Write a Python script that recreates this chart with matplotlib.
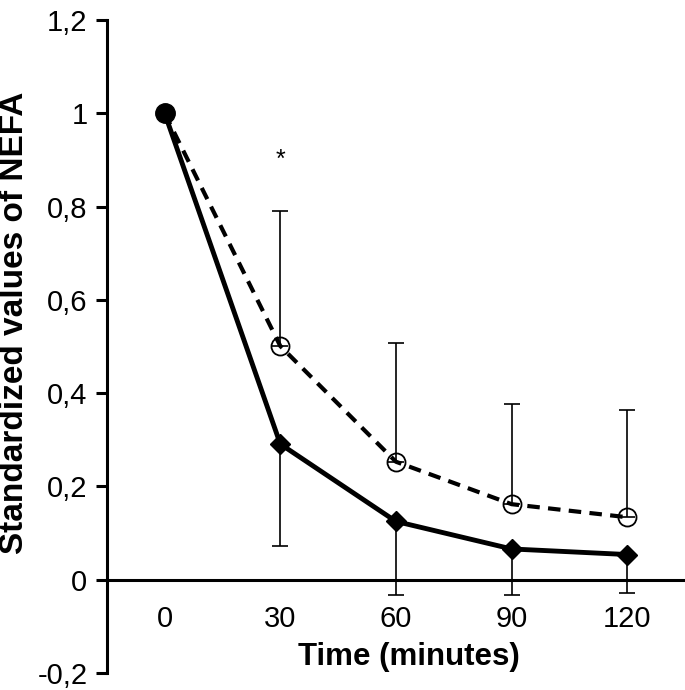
import matplotlib
matplotlib.use("Agg")
import matplotlib.pyplot as plt

plt.rcParams["font.family"] = ["Liberation Sans", "DejaVu Sans"]

# data
times = ["0", "30", "60", "90", "120"]
solid_vals = [1.0, 0.291, 0.125, 0.066, 0.054]
solid_err_low = [0.0, 0.218, 0.157, 0.098, 0.083]
dashed_vals = [1.0, 0.501, 0.253, 0.162, 0.134]
dashed_err_up = [0.0, 0.290, 0.255, 0.215, 0.230]
star_pos = (1, 0.90)
y_ticks = [-0.2, 0, 0.2, 0.4, 0.6, 0.8, 1.0, 1.2]
y_tick_labels = ["-0,2", "0", "0,2", "0,4", "0,6", "0,8", "1", "1,2"]

fig = plt.figure(figsize=(6.85, 6.9), dpi=100)
ax = fig.add_axes([0.156, 0.0246, 0.844, 0.9464])

x = list(range(len(times)))

# error bars (only one side each)
ax.errorbar(x[1:], dashed_vals[1:], yerr=[[0] * 4, dashed_err_up[1:]],
            fmt="none", ecolor="black", elinewidth=1.2, capsize=6, capthick=1.2, zorder=2)
ax.errorbar(x[1:], solid_vals[1:], yerr=[solid_err_low[1:], [0] * 4],
            fmt="none", ecolor="black", elinewidth=1.2, capsize=6, capthick=1.2, zorder=2)

ax.plot(x, dashed_vals, color="black", linestyle=(0, (3, 2)), linewidth=3.0, zorder=3)
ax.plot(x[1:], dashed_vals[1:], linestyle="none", marker="o", markersize=13,
        mfc="none", mec="black", mew=1.3, zorder=4)
ax.plot(x, solid_vals, color="black", linewidth=3.5, zorder=3)
ax.plot(x[1:], solid_vals[1:], linestyle="none", marker="D", markersize=10.5,
        color="black", zorder=4)
ax.plot(x[0], solid_vals[0], linestyle="none", marker="o", markersize=14,
        color="black", zorder=5)

ax.text(star_pos[0], star_pos[1], "*", ha="center", va="center", fontsize=18)

ax.set_xlim(-0.5, 4.5)
ax.set_ylim(-0.2, 1.2)

for side in ["top", "right"]:
    ax.spines[side].set_visible(False)
ax.spines["left"].set_linewidth(2.2)
ax.spines["bottom"].set_position(("data", 0))
ax.spines["bottom"].set_linewidth(2.2)

ax.set_yticks(y_ticks)
ax.set_yticklabels(y_tick_labels)
ax.set_xticks(x)
ax.set_xticklabels(times)
ax.tick_params(axis="y", length=8, width=2.2, direction="out", pad=6, labelsize=21)
ax.tick_params(axis="x", length=0, pad=18, labelsize=21)

ax.set_xlabel("Time (minutes)", fontsize=22.5, fontweight="bold")
ax.xaxis.set_label_coords(0.522, 0.047)
ax.set_ylabel("Standardized values of NEFA", fontsize=24, fontweight="bold")
ax.yaxis.set_label_coords(-0.133, 0.537)

fig.savefig("out.png", dpi=100)
